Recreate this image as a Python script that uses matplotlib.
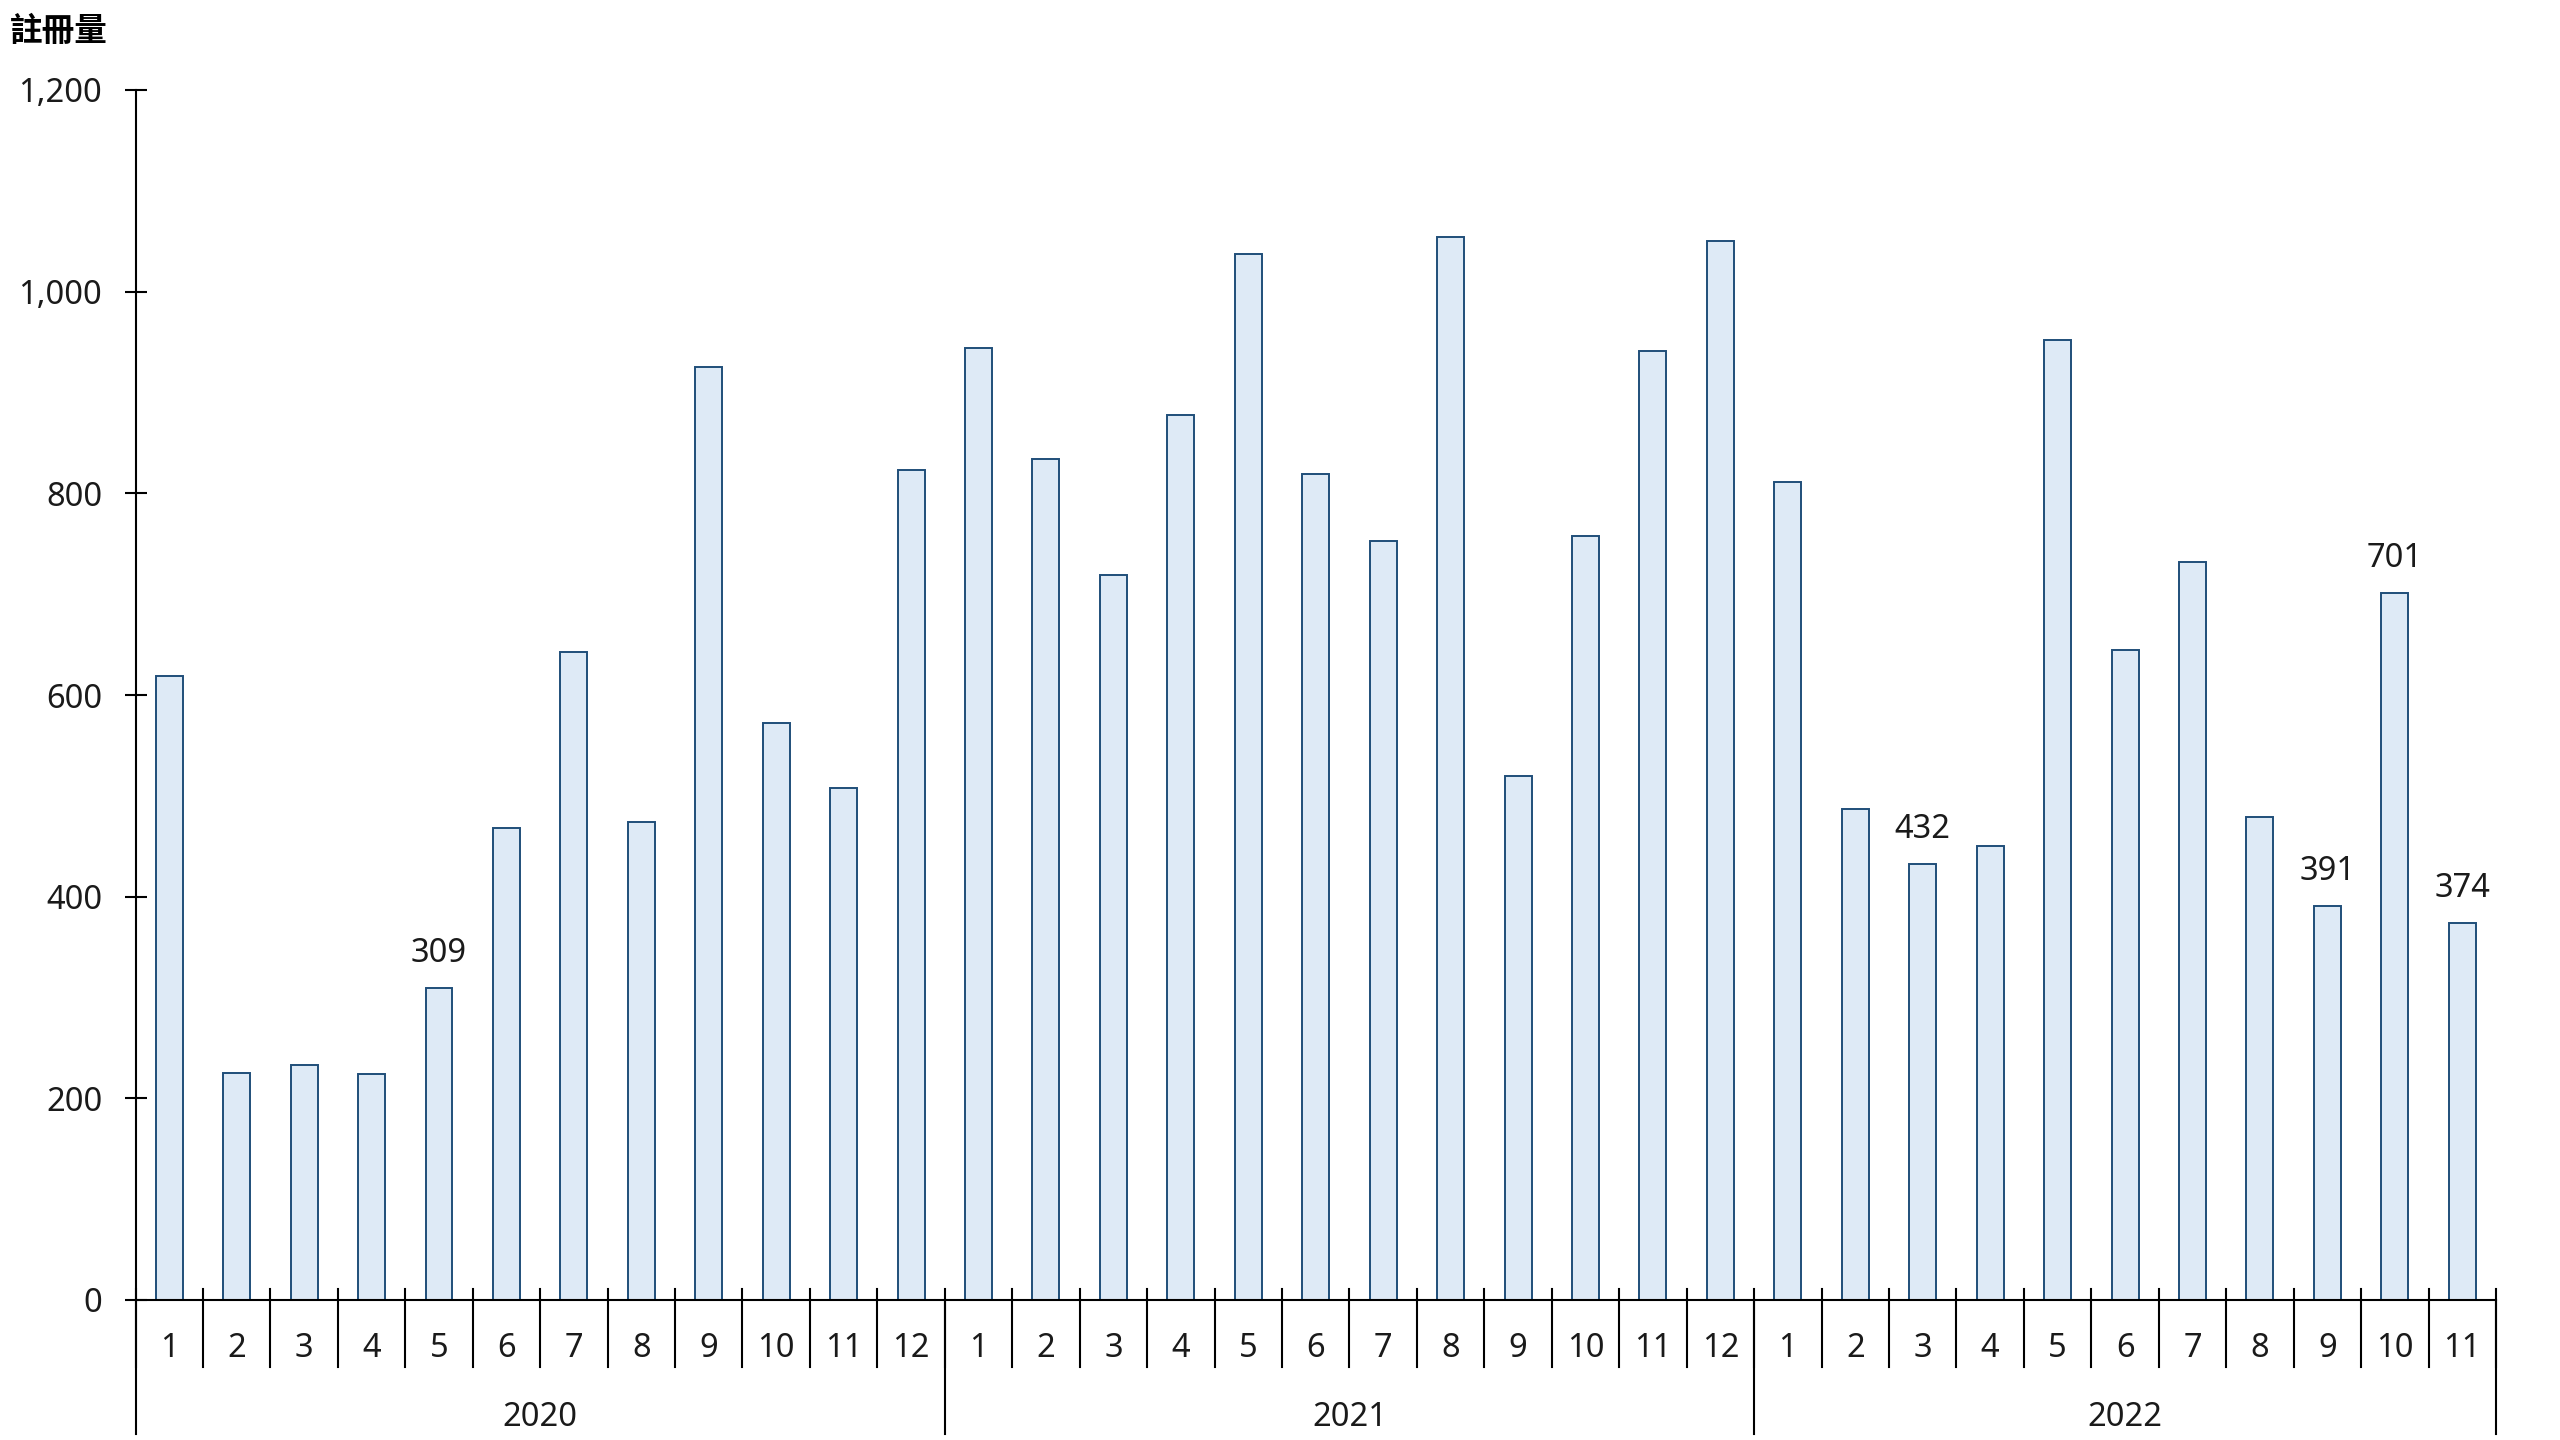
import matplotlib
matplotlib.use("Agg")
import matplotlib.pyplot as plt
from matplotlib.ticker import FuncFormatter

# 每月註冊量 (2020/1 - 2022/11)
years = ["2020", "2021", "2022"]
months_per_year = [12, 12, 11]
values_2020 = [619, 225, 233, 224, 309, 468, 643, 474, 925, 572, 508, 823]
values_2021 = [944, 834, 719, 878, 1037, 819, 753, 1054, 520, 758, 941, 1050]
values_2022 = [811, 487, 432, 450, 952, 645, 732, 479, 391, 701, 374]
labelled = [(2020, 5), (2022, 3), (2022, 9), (2022, 10), (2022, 11)]

values = values_2020 + values_2021 + values_2022
month_labels = [str(m) for n in months_per_year for m in range(1, n + 1)]
year_of = [int(y) for y, n in zip(years, months_per_year) for _ in range(n)]
month_of = [m for n in months_per_year for m in range(1, n + 1)]
x = list(range(len(values)))

plt.rcParams["font.family"] = ["Noto Sans", "Noto Sans CJK TC", "DejaVu Sans"]
fs = 23.5
lw = 1.5

fig = plt.figure(figsize=(25.6, 14.4), dpi=100)
ax = fig.add_axes([135.5 / 2560, 1 - 1300 / 1440, (2496 - 135.5) / 2560, 1210 / 1440])

ax.bar(x, values, width=0.4, color="#DEEAF6", edgecolor="#1F4E79", linewidth=1.4, zorder=2)

# 數值標籤
for xi, v, yr, m in zip(x, values, year_of, month_of):
    if (yr, m) in labelled:
        ax.annotate(f"{v}", (xi, v), xytext=(0, 25), textcoords="offset points",
                    ha="center", va="center", fontsize=fs, color="#1a1a1a")

ax.set_xlim(-0.5, len(values) - 0.5)
ax.set_ylim(0, 1200)
ax.set_yticks(range(0, 1201, 200))
ax.yaxis.set_major_formatter(FuncFormatter(lambda v, p: f"{int(v):,}"))
ax.tick_params(axis="y", direction="inout", length=16, width=lw, pad=16,
               labelsize=fs, labelcolor="#1a1a1a")

# 月份標籤
ax.set_xticks(x, month_labels)
ax.tick_params(axis="x", length=0, pad=35, labelsize=fs, labelcolor="#1a1a1a")
for lab in ax.get_xticklabels():
    lab.set_va("center")

for s in ["top", "right"]:
    ax.spines[s].set_visible(False)
for s in ["left", "bottom"]:
    ax.spines[s].set_linewidth(lw)

# 分隔線
tr = ax.get_xaxis_transform()
h = 1210.0
for b in range(len(values) + 1):
    xb = b - 0.5
    ax.plot([xb, xb], [11 / h, -67 / h], transform=tr, color="black", lw=lw, clip_on=False)
edges = [-0.5]
for n in months_per_year:
    edges.append(edges[-1] + n)
for xb in edges:
    ax.plot([xb, xb], [0, -134 / h], transform=tr, color="black", lw=lw, clip_on=False)

# 年份標籤
for yr, a, b in zip(years, edges[:-1], edges[1:]):
    ax.text((a + b) / 2, -117 / h, yr, transform=tr, ha="center", va="center",
            fontsize=fs, color="#1a1a1a")

fig.text(10 / 2560, 1 - 32 / 1440, "註冊量", ha="left", va="center", fontsize=fs,
         fontweight="bold", family=["Noto Sans CJK TC", "DejaVu Sans"])

fig.savefig("out.png", dpi=100, facecolor="white")
